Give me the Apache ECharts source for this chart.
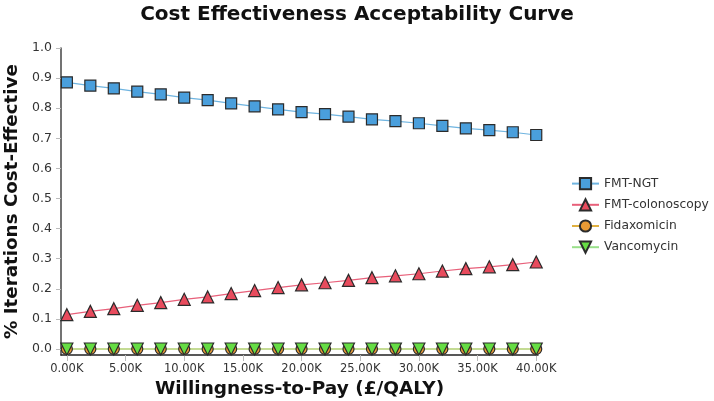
<!DOCTYPE html>
<html>
<head>
<meta charset="utf-8">
<script src="https://cdn.jsdelivr.net/npm/echarts@6/dist/echarts.min.js"></script>
<style>html,body{margin:0;padding:0;background:#fff}#c{width:714px;height:401px}</style>
</head>
<body>
<div id="c"></div>
<script>
var wtp = [0,2000,4000,6000,8000,10000,12000,14000,16000,18000,20000,22000,24000,26000,28000,30000,32000,34000,36000,38000,40000];
var fmtNgt = [0.886,0.875,0.866,0.855,0.846,0.835,0.827,0.816,0.806,0.796,0.787,0.780,0.772,0.763,0.757,0.750,0.741,0.733,0.727,0.720,0.711];
var fmtColon = [0.114,0.125,0.134,0.145,0.154,0.165,0.173,0.184,0.194,0.204,0.213,0.220,0.228,0.237,0.243,0.250,0.259,0.267,0.273,0.280,0.289];
var fidax = [0,0,0,0,0,0,0,0,0,0,0,0,0,0,0,0,0,0,0,0,0];
var vanco = [0,0,0,0,0,0,0,0,0,0,0,0,0,0,0,0,0,0,0,0,0];
var seriesNames = ['FMT-NGT','FMT-colonoscopy','Fidaxomicin','Vancomycin'];
var FONT = 'DejaVu Sans';

function pairs(ys){ return wtp.map(function(x,i){ return [x, ys[i]]; }); }

function mk(name, data, fill, line, symbol, size, rot){
  return {
    name: name, type: 'line', data: pairs(data),
    symbol: symbol, symbolSize: size, symbolRotate: rot || 0,
    showAllSymbol: true, clip: false,
    lineStyle: {color: line, width: 1.2},
    itemStyle: {color: fill, borderColor: '#2b2b2b', borderWidth: 1.2},
    emphasis: {disabled: true}
  };
}

var chart = echarts.init(document.getElementById('c'), null, {renderer: 'canvas'});
chart.setOption({
  animation: false,
  textStyle: {fontFamily: FONT},
  title: {
    text: 'Cost Effectiveness Acceptability Curve',
    left: 'center', top: 0,
    textStyle: {fontFamily: FONT, fontWeight: 'bold', fontSize: 20, color: '#111'}
  },
  legend: {
    orient: 'vertical', left: 571, top: 177, itemGap: 8, padding: 0,
    itemWidth: 27, itemHeight: 14,
    data: seriesNames,
    textStyle: {fontFamily: FONT, fontSize: 12.3, color: '#333'}
  },
  grid: {left: 61, right: 176, top: 48, bottom: 46, containLabel: false, outerBoundsMode: 'none'},
  xAxis: {
    type: 'value', min: -500, max: 40150,
    minInterval: 5000, maxInterval: 5000,
    name: 'Willingness-to-Pay (£/QALY)', nameLocation: 'middle', nameGap: 24,
    nameTextStyle: {fontFamily: FONT, fontWeight: 'bold', fontSize: 18.5, color: '#111'},
    axisLine: {show: true, onZero: false, lineStyle: {color: '#222', width: 1.5}},
    axisTick: {show: true, length: 6, lineStyle: {color: '#bbb'}},
    splitLine: {show: false},
    axisLabel: {
      fontFamily: FONT, fontSize: 11.5, color: '#333', margin: 8,
      showMinLabel: false, showMaxLabel: false,
      formatter: function(v){ return (v % 5000 === 0 && v >= 0) ? (v/1000).toFixed(2) + 'K' : ''; }
    }
  },
  yAxis: {
    type: 'value', min: -0.02, max: 1.0,
    minInterval: 0.1, maxInterval: 0.1,
    name: '% Iterations Cost-Effective', nameLocation: 'middle', nameGap: 36,
    nameTextStyle: {fontFamily: FONT, fontWeight: 'bold', fontSize: 18.3, color: '#111'},
    axisLine: {show: true, onZero: false, lineStyle: {color: '#444', width: 1.5}},
    axisTick: {show: true, length: 5, lineStyle: {color: '#bbb'}},
    splitLine: {show: false},
    axisLabel: {
      fontFamily: FONT, fontSize: 12.5, color: '#333', margin: 9,
      showMinLabel: false,
      formatter: function(v){ return v < -0.001 ? '' : v.toFixed(1); }
    }
  },
  series: [
    mk(seriesNames[0], fmtNgt, '#4a9fdc', '#6fb4e0', 'rect', 11),
    mk(seriesNames[1], fmtColon, '#e84b5d', '#e8607a', 'triangle', 12),
    mk(seriesNames[2], fidax, '#e89a35', '#e0b040', 'circle', 11),
    mk(seriesNames[3], vanco, '#66dd44', '#99e08a', 'triangle', 12, 180)
  ]
});
</script>
</body>
</html>
